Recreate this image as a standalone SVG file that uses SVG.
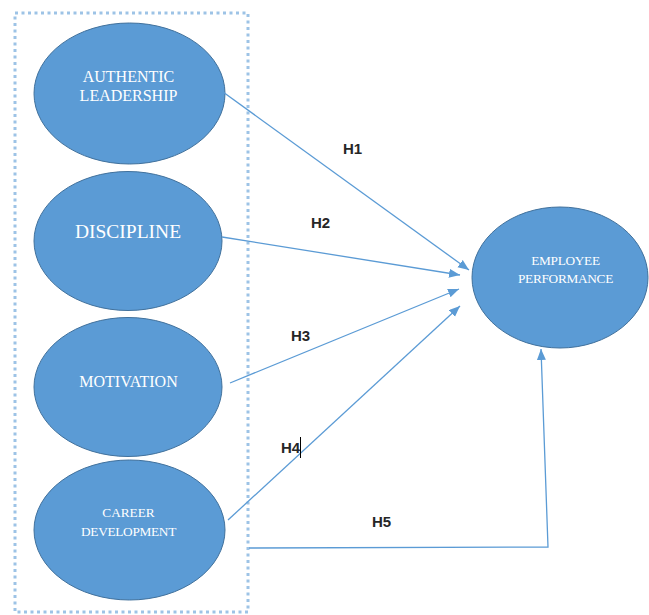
<svg xmlns="http://www.w3.org/2000/svg" width="649" height="615" viewBox="0 0 649 615">
<defs>
<style>
.node ellipse{fill:#5B9BD5;stroke:#41719C;stroke-width:1}
.lbl{font-family:"Liberation Serif","Times New Roman",serif;fill:#ffffff;text-anchor:middle}
.conn{fill:none;stroke:#5B9BD5;stroke-width:1.3}
.h{font-family:"Liberation Sans",Arial,sans-serif;font-weight:bold;font-size:15px;fill:#262626}
</style>
<marker id="ah" markerUnits="userSpaceOnUse" markerWidth="12" markerHeight="10" refX="11" refY="4.5" orient="auto">
<path d="M0,0 L11,4.5 L0,9 z" fill="#5B9BD5"/>
</marker>
</defs>
<rect x="15" y="13" width="233" height="599" fill="none" stroke="#9DC3E6" stroke-width="3" stroke-dasharray="3 3.5"/>
<g id="n-authentic" class="node">
<ellipse cx="129.5" cy="93.5" rx="95.5" ry="70.5"/>
<text class="lbl" x="128.5" y="82" font-size="16">AUTHENTIC</text>
<text class="lbl" x="128.5" y="101" font-size="16">LEADERSHIP</text>
</g>
<g id="n-discipline" class="node">
<ellipse cx="128" cy="241" rx="94" ry="69.5"/>
<text class="lbl" x="128" y="238" font-size="19.5">DISCIPLINE</text>
</g>
<g id="n-motivation" class="node">
<ellipse cx="128" cy="387" rx="94" ry="69.5"/>
<text class="lbl" x="128.5" y="387" font-size="16">MOTIVATION</text>
</g>
<g id="n-career" class="node">
<ellipse cx="129.5" cy="530" rx="95.5" ry="70"/>
<text class="lbl" x="128.5" y="517" font-size="13.3">CAREER</text>
<text class="lbl" x="128.5" y="536" font-size="13.3" letter-spacing="-0.3">DEVELOPMENT</text>
</g>
<g id="n-employee" class="node">
<ellipse cx="560" cy="277.5" rx="88" ry="70.5"/>
<text class="lbl" x="565.5" y="265" font-size="13.3" letter-spacing="-0.3">EMPLOYEE</text>
<text class="lbl" x="565.5" y="283" font-size="13.3" letter-spacing="-0.3">PERFORMANCE</text>
</g>
<g id="connectors">
<line class="conn" x1="223" y1="92" x2="469" y2="270" marker-end="url(#ah)"/>
<line class="conn" x1="222" y1="237" x2="460" y2="275" marker-end="url(#ah)"/>
<line class="conn" x1="230" y1="383" x2="459" y2="289" marker-end="url(#ah)"/>
<line class="conn" x1="228" y1="520" x2="460" y2="306" marker-end="url(#ah)"/>
<polyline class="conn" points="249,548 548,547 541,349" marker-end="url(#ah)"/>
</g>
<g id="labels">
<text class="h" x="343" y="154">H1</text>
<text class="h" x="311" y="228">H2</text>
<text class="h" x="291" y="341">H3</text>
<text class="h" x="281" y="453">H4</text>
<text class="h" x="372" y="527">H5</text>
</g>
<line x1="300.5" y1="437" x2="300.5" y2="458" stroke="#000000" stroke-width="1"/>
</svg>
